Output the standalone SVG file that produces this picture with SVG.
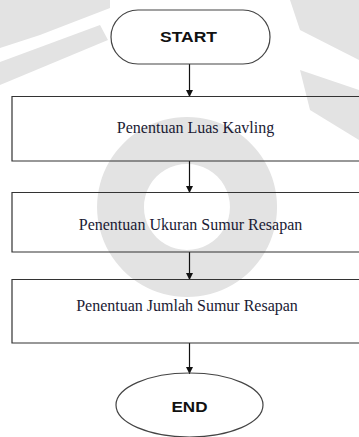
<svg xmlns="http://www.w3.org/2000/svg" width="359" height="437" viewBox="0 0 359 437">
<style>
.wm{fill:#e3e3e3;stroke:none}
.term{fill:none;stroke:#444;stroke-width:1.2}
.box{fill:none;stroke:#333;stroke-width:1.2}
.tt{font-family:"Liberation Sans",Arial,sans-serif;font-weight:bold;font-size:14.5px;fill:#111;text-anchor:middle}
.bt{font-family:"Liberation Serif","Times New Roman",serif;font-size:16px;fill:#1a1a33;text-anchor:middle}
.ln{stroke:#111;stroke-width:1.2;fill:none}
</style>
<defs>
<marker id="ah" markerWidth="8" markerHeight="8" refX="7" refY="3.5" orient="auto" markerUnits="userSpaceOnUse" viewBox="0 0 8 8">
<path d="M0,0 L7,3.5 L0,7 Z" fill="#111"/>
</marker>
</defs>
<rect width="359" height="437" fill="#fff"/>
<g id="watermark">
<path class="wm" fill-rule="evenodd" d="M187,117 a90,90 0 1,0 0.1,0 Z M187,164 a43,43 0 1,1 -0.1,0 Z"/>
<polygon class="wm" points="0,0 110,0 110,8 40,35 0,48"/>
<polygon class="wm" points="0,62 100,25 108,40 0,85"/>
<polygon class="wm" points="290,0 359,0 359,60 300,30"/>
<polygon class="wm" points="300,70 359,90 359,140 310,110"/>
</g>
<g id="connectors">
<line class="ln" x1="189.5" y1="64" x2="189.5" y2="97" marker-end="url(#ah)"/>
<line class="ln" x1="189.5" y1="161" x2="189.5" y2="193" marker-end="url(#ah)"/>
<line class="ln" x1="189.5" y1="252" x2="189.5" y2="280" marker-end="url(#ah)"/>
<line class="ln" x1="189.5" y1="343" x2="189.5" y2="374" marker-end="url(#ah)"/>
</g>
<g id="start">
<rect class="term" x="111" y="10" width="159" height="54" rx="27" ry="27"/>
<text class="tt" x="188.5" y="41.5" textLength="57" lengthAdjust="spacingAndGlyphs">START</text>
</g>
<g id="luas">
<path class="box" d="M362,96.5 H12 V161 H362"/>
<text class="bt" x="195.5" y="133">Penentuan Luas Kavling</text>
</g>
<g id="ukuran">
<path class="box" d="M362,192.5 H12 V252 H362"/>
<text class="bt" x="190.5" y="230">Penentuan Ukuran Sumur Resapan</text>
</g>
<g id="jumlah">
<path class="box" d="M362,279.5 H12 V343 H362"/>
<text class="bt" x="187" y="310.5">Penentuan  Jumlah Sumur Resapan</text>
</g>
<g id="end">
<ellipse class="term" cx="189.5" cy="405" rx="73.5" ry="32"/>
<text class="tt" x="189.5" y="411.5" textLength="36" lengthAdjust="spacingAndGlyphs">END</text>
</g>
</svg>
